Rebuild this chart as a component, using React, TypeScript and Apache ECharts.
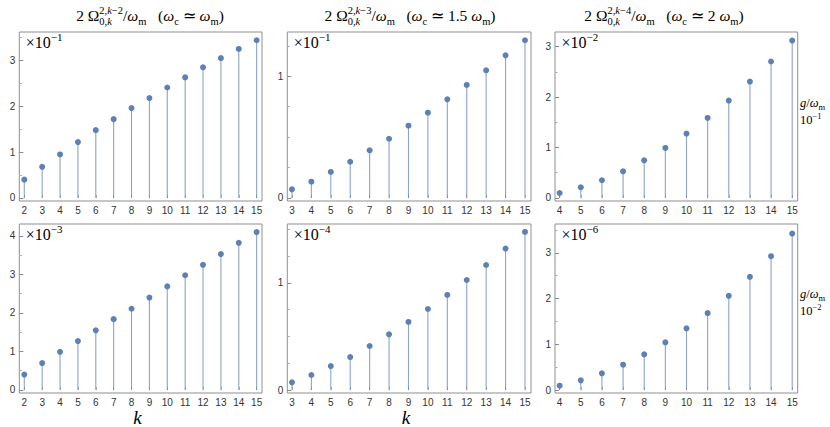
import React, { useEffect, useRef } from "react";
import * as echarts from "echarts";

// ---------- data ----------
const kTL = [2, 3, 4, 5, 6, 7, 8, 9, 10, 11, 12, 13, 14, 15];
const vTL = [0.4, 0.68, 0.95, 1.22, 1.48, 1.72, 1.96, 2.18, 2.41, 2.63, 2.85, 3.05, 3.25, 3.44];
const kTM = [3, 4, 5, 6, 7, 8, 9, 10, 11, 12, 13, 14, 15];
const vTM = [0.071, 0.134, 0.214, 0.298, 0.392, 0.487, 0.594, 0.701, 0.811, 0.929, 1.049, 1.172, 1.296];
const kTR = [4, 5, 6, 7, 8, 9, 10, 11, 12, 13, 14, 15];
const vTR = [0.099, 0.212, 0.351, 0.529, 0.747, 0.992, 1.276, 1.587, 1.931, 2.308, 2.705, 3.12];
const kBL = [2, 3, 4, 5, 6, 7, 8, 9, 10, 11, 12, 13, 14, 15];
const vBL = [0.4, 0.7, 0.99, 1.27, 1.55, 1.84, 2.11, 2.4, 2.69, 2.98, 3.25, 3.53, 3.82, 4.1];
const kBM = [3, 4, 5, 6, 7, 8, 9, 10, 11, 12, 13, 14, 15];
const vBM = [0.072, 0.14, 0.224, 0.308, 0.411, 0.52, 0.636, 0.757, 0.888, 1.028, 1.168, 1.321, 1.477];
const kBR = [4, 5, 6, 7, 8, 9, 10, 11, 12, 13, 14, 15];
const vBR = [0.094, 0.211, 0.364, 0.553, 0.779, 1.041, 1.347, 1.681, 2.059, 2.474, 2.926, 3.421];

const majorTL = [0, 1, 2, 3];
const minorTL = [0.5, 1.5, 2.5, 3.5];
const majorTM = [0, 1];
const minorTM = [0.25, 0.5, 0.75, 1.25];
const majorTR = [0, 1, 2, 3];
const minorTR = [0.5, 1.5, 2.5];
const majorBL = [0, 1, 2, 3, 4];
const minorBL = [0.5, 1.5, 2.5, 3.5];
const majorBM = [0, 1];
const minorBM = [0.25, 0.5, 0.75, 1.25, 1.5];
const majorBR = [0, 1, 2, 3];
const minorBR = [0.5, 1.5, 2.5, 3.5];

const exponents = ["−1", "−1", "−2", "−3", "−4", "−6"];
const gExponents = ["−1", "−2"];
const titleSup = ["2,k−2", "2,k−3", "2,k−4"];
const titleRatio = ["", "1.5 ", "2 "];

// ---------- text layout helpers ----------
const SERIF = "Liberation Serif";
type Run = { t: string; it?: boolean };
type Seg =
  | { k: "n"; runs: Run[] }
  | { k: "sub"; runs: Run[] }
  | { k: "sup"; runs: Run[] }
  | { k: "stack"; sup: Run[]; sub: Run[] };

let ctx: CanvasRenderingContext2D | null = null;
function measure(t: string, size: number, it?: boolean) {
  if (!ctx) ctx = document.createElement("canvas").getContext("2d");
  if (!ctx) return t.length * size * 0.5;
  ctx.font = `${it ? "italic " : ""}${size}px "${SERIF}", serif`;
  return ctx.measureText(t).width;
}
function runsWidth(runs: Run[], size: number) {
  return runs.reduce((a, r) => a + measure(r.t, size, r.it), 0);
}

function layout(
  segs: Seg[],
  anchorX: number,
  align: "left" | "center",
  baseline: number,
  S: number,
  s: number,
  supDy: number,
  subDy: number
) {
  let total = 0;
  for (const g of segs) {
    if (g.k === "n") total += runsWidth(g.runs, S);
    else if (g.k === "stack") total += Math.max(runsWidth(g.sup, s), runsWidth(g.sub, s));
    else total += runsWidth(g.runs, s);
  }
  let x = align === "center" ? anchorX - total / 2 : anchorX;
  const els: any[] = [];
  const put = (runs: Run[], x0: number, bl: number, size: number) => {
    let xx = x0;
    for (const r of runs) {
      els.push({
        type: "text",
        x: xx,
        y: bl - 0.34 * size,
        silent: true,
        style: {
          text: r.t,
          fontFamily: SERIF,
          fontSize: size,
          fontStyle: r.it ? "italic" : "normal",
          fontWeight: "normal",
          fill: "#000",
          align: "left",
          verticalAlign: "middle",
        },
      });
      xx += measure(r.t, size, r.it);
    }
    return xx - x0;
  };
  for (const g of segs) {
    if (g.k === "n") x += put(g.runs, x, baseline, S);
    else if (g.k === "sub") x += put(g.runs, x, baseline + subDy, s);
    else if (g.k === "sup") x += put(g.runs, x, baseline - supDy, s);
    else {
      const w1 = put(g.sup, x, baseline - supDy, s);
      const w2 = put(g.sub, x, baseline + subDy, s);
      x += Math.max(w1, w2);
    }
  }
  return els;
}

function supRuns(str: string): Run[] {
  const parts = str.split("k");
  const out: Run[] = [];
  parts.forEach((p, i) => {
    if (p) out.push({ t: p });
    if (i < parts.length - 1) out.push({ t: "k", it: true });
  });
  return out;
}

function titleSegs(i: number): Seg[] {
  return [
    { k: "n", runs: [{ t: "2 Ω" }] },
    { k: "stack", sup: supRuns(titleSup[i]), sub: [{ t: "0," }, { t: "k", it: true }] },
    { k: "n", runs: [{ t: "/" }, { t: "ω", it: true }] },
    { k: "sub", runs: [{ t: "m" }] },
    { k: "n", runs: [{ t: "   (" }, { t: "ω", it: true }] },
    { k: "sub", runs: [{ t: "c" }] },
    { k: "n", runs: [{ t: " ≃ " + titleRatio[i] }, { t: "ω", it: true }] },
    { k: "sub", runs: [{ t: "m" }] },
    { k: "n", runs: [{ t: ")" }] },
  ];
}

export default function App() {
  const ref = useRef<HTMLDivElement>(null);
  useEffect(() => {
    document.body.style.margin = "0";
    if (!ref.current) return;
    const chart = echarts.init(ref.current, undefined, { renderer: "svg" });

    const grids = [
      { left: 19.3, top: 32, width: 242.7, height: 169 },
      { left: 287.3, top: 32, width: 243.7, height: 169 },
      { left: 555, top: 32, width: 242.7, height: 169 },
      { left: 19.3, top: 224, width: 242.7, height: 169 },
      { left: 287.3, top: 224, width: 243.7, height: 169 },
      { left: 555, top: 224, width: 242.7, height: 169 },
    ];
    const xr = [
      [1.72, 15.3],
      [2.76, 15.31],
      [3.78, 15.26],
      [1.72, 15.3],
      [2.76, 15.31],
      [3.78, 15.26],
    ];
    const yr = [
      [-0.0655, 3.62],
      [-0.0247, 1.364],
      [-0.06, 3.29],
      [-0.078, 4.31],
      [-0.028, 1.551],
      [-0.0655, 3.63],
    ];
    const ks = [kTL, kTM, kTR, kBL, kBM, kBR];
    const vs = [vTL, vTM, vTR, vBL, vBM, vBR];
    const majors = [majorTL, majorTM, majorTR, majorBL, majorBM, majorBR];
    const minors = [minorTL, minorTM, minorTR, minorBL, minorBM, minorBR];

    const tickFont = { fontFamily: "Liberation Sans", fontSize: 10, color: "#333" };
    const frameColor = "#8f8f8f";

    const xAxis = ks.map((k, i) => ({
      type: "value",
      gridIndex: i,
      min: xr[i][0],
      max: xr[i][1],
      axisLine: { show: false },
      splitLine: { show: false },
      axisTick: { show: true, inside: true, length: 3, customValues: k, lineStyle: { color: "#b5b5b5" } },
      axisLabel: { ...tickFont, margin: 4, customValues: k, formatter: (v: number) => String(v) },
    }));
    const yAxis: any[] = [];
    grids.forEach((g, i) => {
      yAxis.push({
        type: "value",
        gridIndex: i,
        position: "left",
        min: yr[i][0],
        max: yr[i][1],
        axisLine: { show: false },
        splitLine: { show: false },
        axisTick: { show: true, inside: true, length: 4, customValues: majors[i], lineStyle: { color: "#888" } },
        axisLabel: { ...tickFont, margin: 4, customValues: majors[i], formatter: (v: number) => String(v) },
      });
      yAxis.push({
        type: "value",
        gridIndex: i,
        position: "right",
        offset: -g.width,
        min: yr[i][0],
        max: yr[i][1],
        axisLine: { show: false },
        splitLine: { show: false },
        axisTick: { show: true, inside: false, length: 2.5, customValues: minors[i], lineStyle: { color: "#aaa" } },
        axisLabel: { show: false },
      });
    });

    const series: any[] = [];
    ks.forEach((k, i) => {
      const data = k.map((kk, j) => [kk, vs[i][j]]);
      series.push({
        type: "bar",
        xAxisIndex: i,
        yAxisIndex: 2 * i,
        data,
        barWidth: 1.1,
        silent: true,
        itemStyle: { color: "rgba(94,129,181,0.72)" },
      });
      series.push({
        type: "scatter",
        xAxisIndex: i,
        yAxisIndex: 2 * i,
        data,
        symbolSize: 6,
        silent: true,
        itemStyle: { color: "#5E81B5", opacity: 1 },
        z: 5,
      });
    });

    const graphics: any[] = [];
    const titleCx = [150, 410, 664];
    titleCx.forEach((cx, i) => {
      graphics.push(...layout(titleSegs(i), cx, "center", 20.7, 15.5, 10.5, 7, 4));
    });
    grids.forEach((g, i) => {
      graphics.push(
        ...layout(
          [
            { k: "n", runs: [{ t: "×10" }] },
            { k: "sup", runs: [{ t: exponents[i] }] },
          ],
          g.left + 6.5,
          "left",
          g.top + 16,
          16,
          11,
          7,
          0
        )
      );
    });
    const rightBase = [107.5, 298.5];
    rightBase.forEach((b, i) => {
      graphics.push(
        ...layout(
          [
            { k: "n", runs: [{ t: "g", it: true }, { t: "/" }, { t: "ω", it: true }] },
            { k: "sub", runs: [{ t: "m" }] },
          ],
          800,
          "left",
          b,
          12.5,
          8.5,
          4,
          2
        )
      );
      graphics.push(
        ...layout(
          [
            { k: "n", runs: [{ t: "10" }] },
            { k: "sup", runs: [{ t: gExponents[i] }] },
          ],
          800,
          "left",
          b + 16.5,
          12.5,
          8.5,
          5,
          0
        )
      );
    });
    [137.5, 406].forEach((cx) => {
      graphics.push(...layout([{ k: "n", runs: [{ t: "k", it: true }] }], cx, "center", 423.5, 19, 10, 0, 0));
    });

    chart.setOption({
      animation: false,
      grid: grids.map((g) => ({
        ...g,
        show: true,
        borderColor: frameColor,
        borderWidth: 1,
        backgroundColor: "transparent",
        containLabel: false,
        outerBoundsMode: "none",
      })),
      xAxis,
      yAxis,
      series,
      graphic: { elements: graphics },
    });
    return () => chart.dispose();
  }, []);
  return <div ref={ref} style={{ width: 830, height: 427, background: "#fff" }} />;
}
